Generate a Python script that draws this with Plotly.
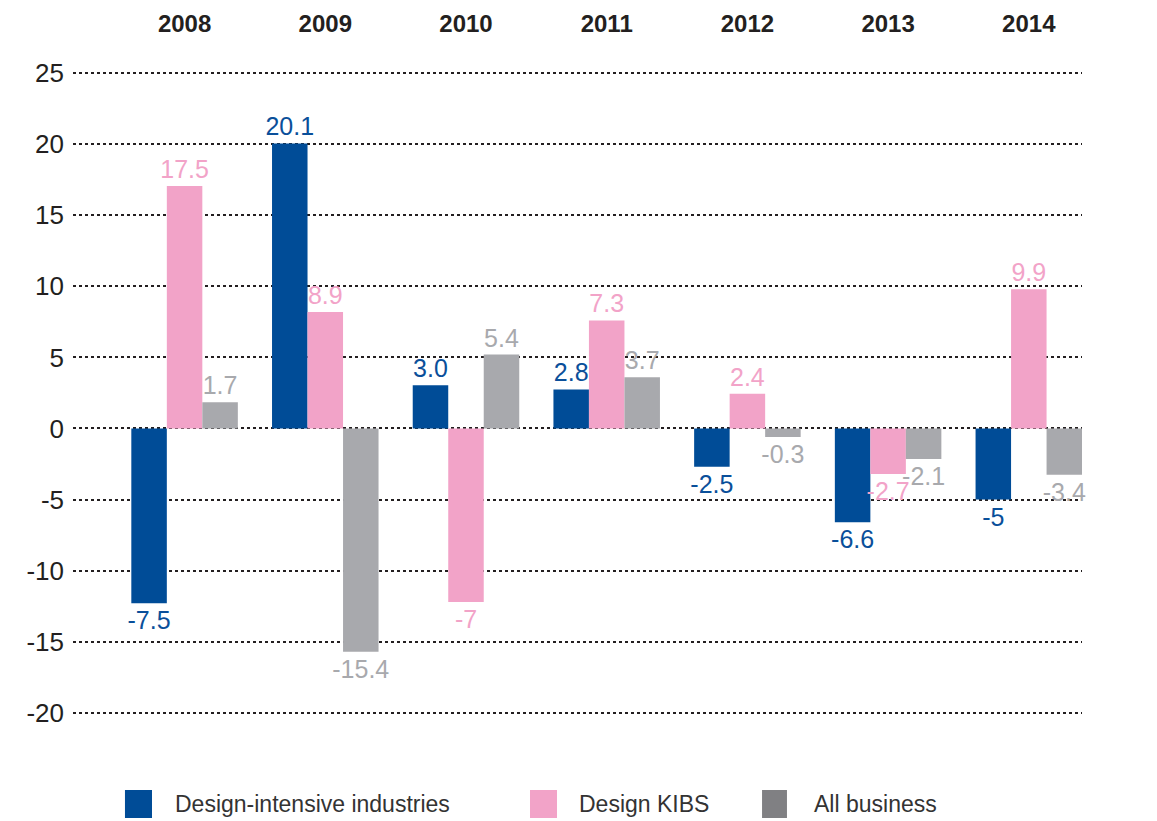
import plotly.graph_objects as go

years = ['2008', '2009', '2010', '2011', '2012', '2013', '2014']
series_names = ['Design-intensive industries', 'Design KIBS', 'All business']

# bar heights as drawn in the source picture
design_intensive = [-12.3, 20.05, 3.05, 2.75, -2.7, -6.6, -5.0]
design_kibs = [17.05, 8.2, -12.2, 7.6, 2.45, -3.2, 9.8]
all_business = [1.85, -15.7, 5.2, 3.6, -0.6, -2.15, -3.25]

# printed value labels
design_intensive_labels = ['-7.5', '20.1', '3.0', '2.8', '-2.5', '-6.6', '-5']
design_kibs_labels = ['17.5', '8.9', '-7', '7.3', '2.4', '-2.7', '9.9']
all_business_labels = ['1.7', '-15.4', '5.4', '3.7', '-0.3', '-2.1', '-3.4']

y_ticks = [-20, -15, -10, -5, 0, 5, 10, 15, 20, 25]
y_tick_text = ['-20', '-15', '-10', '-5', '0', '5', '10', '15', '20', '25']

bar_colors = ['#004c97', '#f2a3c8', '#a8a9ad']
label_colors = ['#0a4f9a', '#f2a3c8', '#a8a9ad']
legend_colors = ['#004c97', '#f2a3c8', '#808083']

font_family = 'Liberation Sans, Arial, sans-serif'

fig = go.Figure()
for name, vals, labels, bc, lc in zip(
        series_names,
        [design_intensive, design_kibs, all_business],
        [design_intensive_labels, design_kibs_labels, all_business_labels],
        bar_colors, label_colors):
    fig.add_trace(go.Bar(
        x=years, y=vals, name=name,
        marker=dict(color=bc, line=dict(width=0)),
        text=labels, textposition='outside',
        textfont=dict(family=font_family, size=25, color=lc),
        constraintext='none', cliponaxis=False,
        showlegend=False,
    ))

# legend drawn by hand to get the big square keys
legend_boxes = [(0.0515, 0.0783), (0.4529, 0.4797), (0.6829, 0.7076)]
legend_text_x = [0.0991, 0.4995, 0.7324]
for name, color, (x0, x1), tx in zip(series_names, legend_colors, legend_boxes, legend_text_x):
    fig.add_shape(type='rect', xref='paper', yref='paper',
                  x0=x0, x1=x1, y0=-0.1377, y1=-0.0953,
                  fillcolor=color, line=dict(width=0))
    fig.add_annotation(text=name, xref='paper', yref='paper', x=tx, y=-0.1165,
                       xanchor='left', yanchor='middle', showarrow=False,
                       font=dict(family=font_family, size=23, color='#333333'))

# page body adds 8px, so the figure is 8px smaller than the window
fig.update_layout(
    width=1149, height=813,
    margin=dict(l=65, r=75, t=58, b=94),
    paper_bgcolor='white', plot_bgcolor='white',
    barmode='group', bargap=0.243, bargroupgap=0,
    font=dict(family=font_family, color='#231f20'),
)
fig.update_xaxes(
    side='top', range=[-0.793, 6.378], showgrid=False, showline=False,
    ticks='', ticklabelstandoff=28, automargin=False,
    tickfont=dict(family=font_family, size=24, color='#231f20', weight='bold'),
)
fig.update_yaxes(
    range=[-21, 25.5], tickvals=y_ticks, ticktext=y_tick_text,
    showgrid=True, gridcolor='#231f20', griddash='dot', gridwidth=1.5,
    zeroline=False, showline=False, ticks='', ticklabelstandoff=8, automargin=False,
    tickfont=dict(family=font_family, size=26, color='#231f20'),
)

fig.write_html('out.html')
